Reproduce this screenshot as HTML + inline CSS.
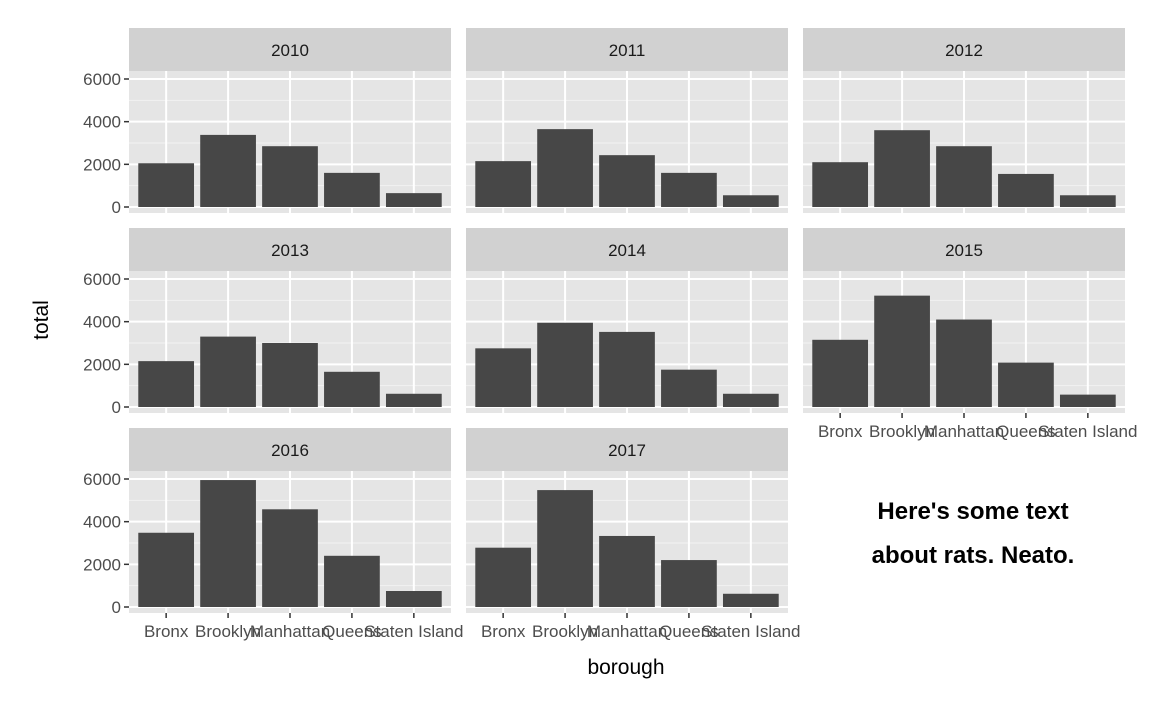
<!DOCTYPE html>
<html><head><meta charset="utf-8"><style>
body{margin:0;background:#fff;}
svg text{font-family:"Liberation Sans",Arial,sans-serif;}
</style></head><body>
<svg id="chart" width="1152" height="711" xmlns="http://www.w3.org/2000/svg"></svg>
<script>
const categories = ["Bronx","Brooklyn","Manhattan","Queens","Staten Island"];
const years = ["2010","2011","2012","2013","2014","2015","2016","2017"];
const v2010 = [2050,3380,2850,1600,650];
const v2011 = [2150,3650,2430,1600,550];
const v2012 = [2100,3600,2850,1550,550];
const v2013 = [2150,3300,3000,1650,620];
const v2014 = [2750,3950,3520,1750,620];
const v2015 = [3150,5220,4100,2080,580];
const v2016 = [3480,5950,4580,2400,750];
const v2017 = [2780,5480,3330,2200,620];
const seriesValues = [v2010,v2011,v2012,v2013,v2014,v2015,v2016,v2017];
const yTicks = [0,2000,4000,6000];
const yMinor = [1000,3000,5000];

const svg = document.getElementById('chart');
const NS = "http://www.w3.org/2000/svg";
function mk(tag, attrs, parent){const e=document.createElementNS(NS,tag);for(const k in attrs)e.setAttribute(k,attrs[k]);(parent||svg).appendChild(e);return e;}

const colX = [129,466,803], PW = 322;
const rowTop = [28,228,428], SH = 43, PH = 142;
// y scale: 0 at top+179, 6000 at top+51
function yScale(v, top){ return top + 179 - v*(128/6000); }
function xScale(i, left){ const step = PW/5.2; return left + (0.6 + i)*step; }
const bw = PW/5.2*0.9;

years.forEach((yr, p) => {
  const col = p%3, row = Math.floor(p/3);
  const left = colX[col], top = rowTop[row];
  const g = mk('g', {});
  
  
  const strip = mk('rect', {x:left, y:top, width:PW, height:SH, fill:'#D1D1D1'}, g);
  
  
  const st = mk('text', {x:left+PW/2, y:top+28, 'text-anchor':'middle', 'font-size':17, fill:'#1a1a1a'}, g);
  st.textContent = yr;
  
  
  const pt = top+SH;
  mk('rect', {x:left, y:pt, width:PW, height:PH, fill:'#E5E5E5'}, g);
  yMinor.forEach(v=>{ const y=yScale(v,top); mk('line',{x1:left,x2:left+PW,y1:y,y2:y,stroke:'#F2F2F2','stroke-width':1},g); });
  yTicks.forEach(v=>{ const y=yScale(v,top); mk('line',{x1:left,x2:left+PW,y1:y,y2:y,stroke:'#fff','stroke-width':2},g); });
  categories.forEach((c,i)=>{ const x=xScale(i,left); mk('line',{x1:x,x2:x,y1:pt,y2:pt+PH,stroke:'#fff','stroke-width':2},g); });
  seriesValues[p].forEach((v,i)=>{
    const x=xScale(i,left), y=yScale(v,top), y0=yScale(0,top);
    const b = mk('rect',{x:x-bw/2,y:y,width:bw,height:y0-y,fill:'#474747'},g);
    
    
  });
  if(col===0){
    yTicks.forEach(v=>{ const y=yScale(v,top);
      mk('line',{x1:left-5,x2:left,y1:y,y2:y,stroke:'#333','stroke-width':1.5},g);
      const t=mk('text',{x:left-8,y:y+6,'text-anchor':'end','font-size':17,fill:'#4D4D4D'},g);
      t.textContent=v;
      
      
    });
  }
  const hasX = (row===2) || (p===5);
  if(hasX){
    categories.forEach((c,i)=>{ const x=xScale(i,left);
      mk('line',{x1:x,x2:x,y1:pt+PH,y2:pt+PH+5,stroke:'#333','stroke-width':1.5},g);
      const t=mk('text',{x:x,y:pt+PH+24,'text-anchor':'middle','font-size':17,fill:'#4D4D4D'},g);
      t.textContent=c;
      
      
    });
  }
});
const yt = mk('text',{x:0,y:0,'font-size':21,fill:'#000','text-anchor':'middle',transform:'translate(48,320) rotate(-90)'});
yt.textContent='total';


const xt = mk('text',{x:626,y:674,'font-size':21,fill:'#000','text-anchor':'middle'});
xt.textContent='borough';


const a1 = mk('text',{x:973,y:519,'font-size':24,'font-weight':'bold',fill:'#000','text-anchor':'middle'});
a1.textContent="Here's some text";


const a2 = mk('text',{x:973,y:563,'font-size':24,'font-weight':'bold',fill:'#000','text-anchor':'middle'});
a2.textContent="about rats. Neato.";


</script>
</body></html>
